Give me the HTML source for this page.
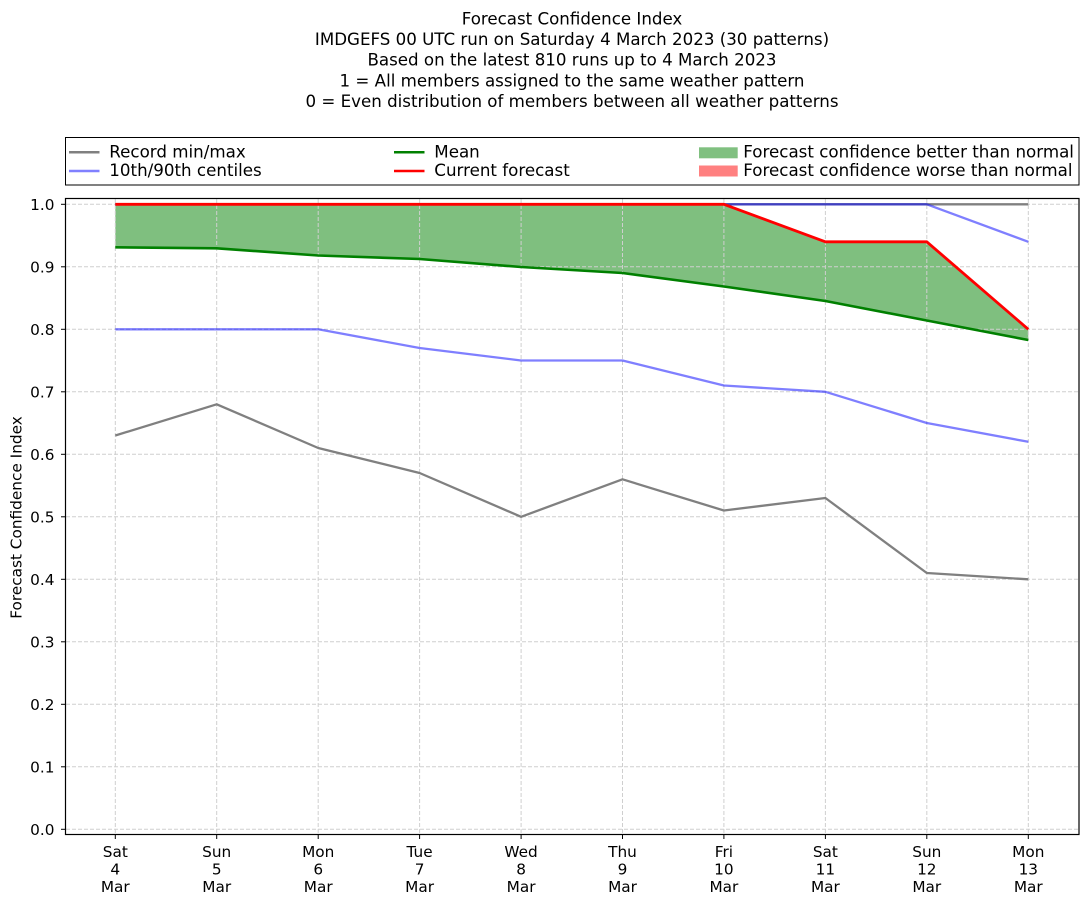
<!DOCTYPE html>
<html>
<head>
<meta charset="utf-8">
<style>
html,body{margin:0;padding:0;background:#fff;}
svg{display:block;}
text{font-family:"DejaVu Sans","Liberation Sans",sans-serif;fill:#000;}
</style>
</head>
<body>
<svg width="1092" height="924" viewBox="0 0 1092 924" xmlns="http://www.w3.org/2000/svg">
<!-- Title -->
<g font-size="16.67" text-anchor="middle">
<text x="572" y="24.3">Forecast Confidence Index</text>
<text x="572" y="45">IMDGEFS 00 UTC run on Saturday 4 March 2023 (30 patterns)</text>
<text x="572" y="65.7">Based on the latest 810 runs up to 4 March 2023</text>
<text x="572" y="86.3">1 = All members assigned to the same weather pattern</text>
<text x="572" y="107">0 = Even distribution of members between all weather patterns</text>
</g>

<!-- Legend -->
<rect x="65.5" y="137.5" width="1013.5" height="47.5" fill="#fff" stroke="#000" stroke-width="1"/>
<g stroke-width="2.5">
<line x1="69" y1="152.3" x2="99.5" y2="152.3" stroke="#808080"/>
<line x1="69" y1="171" x2="99.5" y2="171" stroke="#8080ff"/>
<line x1="394" y1="152.3" x2="424.5" y2="152.3" stroke="#008000"/>
<line x1="394" y1="171" x2="424.5" y2="171" stroke="#ff0000"/>
</g>
<rect x="699" y="147.3" width="38.7" height="11" fill="#80c080"/>
<rect x="699" y="165.5" width="38.7" height="11" fill="#ff8080"/>
<g font-size="16.7">
<text x="109.3" y="157.7">Record min/max</text>
<text x="109.3" y="176.2">10th/90th centiles</text>
<text x="434.3" y="157.7">Mean</text>
<text x="434.3" y="176.2">Current forecast</text>
<text x="743.3" y="157.7">Forecast confidence better than normal</text>
<text x="743.3" y="176.2">Forecast confidence worse than normal</text>
</g>

<!-- Fill between mean and current -->
<polygon fill="#008000" fill-opacity="0.5" points="
115.3,204.3 216.7,204.3 318.2,204.3 419.6,204.3 521.1,204.3 622.5,204.3 723.9,204.3 825.4,241.8 926.8,241.8 1028.3,329.3
1028.3,340 926.8,320.5 825.4,301 723.9,286.5 622.5,273 521.1,267 419.6,259 318.2,255.5 216.7,248.3 115.3,247.3"/>

<!-- Grid -->
<g stroke="#cfcfcf" stroke-width="1" stroke-dasharray="4,2" fill="none">
<line x1="66" y1="204.3" x2="1079" y2="204.3"/>
<line x1="66" y1="266.8" x2="1079" y2="266.8"/>
<line x1="66" y1="329.3" x2="1079" y2="329.3"/>
<line x1="66" y1="391.8" x2="1079" y2="391.8"/>
<line x1="66" y1="454.3" x2="1079" y2="454.3"/>
<line x1="66" y1="516.8" x2="1079" y2="516.8"/>
<line x1="66" y1="579.3" x2="1079" y2="579.3"/>
<line x1="66" y1="641.8" x2="1079" y2="641.8"/>
<line x1="66" y1="704.3" x2="1079" y2="704.3"/>
<line x1="66" y1="766.8" x2="1079" y2="766.8"/>
<line x1="66" y1="829.3" x2="1079" y2="829.3"/>
<line x1="115.3" y1="199" x2="115.3" y2="834"/>
<line x1="216.7" y1="199" x2="216.7" y2="834"/>
<line x1="318.2" y1="199" x2="318.2" y2="834"/>
<line x1="419.6" y1="199" x2="419.6" y2="834"/>
<line x1="521.1" y1="199" x2="521.1" y2="834"/>
<line x1="622.5" y1="199" x2="622.5" y2="834"/>
<line x1="723.9" y1="199" x2="723.9" y2="834"/>
<line x1="825.4" y1="199" x2="825.4" y2="834"/>
<line x1="926.8" y1="199" x2="926.8" y2="834"/>
<line x1="1028.3" y1="199" x2="1028.3" y2="834"/>
</g>

<!-- Series -->
<g fill="none" stroke-width="2.3" stroke-linejoin="round">
<polyline stroke="#808080" points="115.3,435.5 216.7,404.3 318.2,448 419.6,473 521.1,516.8 622.5,479.3 723.9,510.5 825.4,498 926.8,573 1028.3,579.3"/>
<polyline stroke="#808080" points="115.3,204.3 1028.3,204.3"/>
<polyline stroke="#0000ff" stroke-opacity="0.5" points="115.3,329.3 216.7,329.3 318.2,329.3 419.6,348 521.1,360.5 622.5,360.5 723.9,385.5 825.4,391.8 926.8,423 1028.3,441.8"/>
<polyline stroke="#0000ff" stroke-opacity="0.5" points="115.3,204.3 216.7,204.3 318.2,204.3 419.6,204.3 521.1,204.3 622.5,204.3 723.9,204.3 825.4,204.3 926.8,204.3 1028.3,241.8"/>
<polyline stroke="#008000" stroke-width="2.6" points="115.3,247.3 216.7,248.3 318.2,255.5 419.6,259 521.1,267 622.5,273 723.9,286.5 825.4,301 926.8,320.5 1028.3,340"/>
<polyline stroke="#ff0000" stroke-width="2.8" points="115.3,204.3 216.7,204.3 318.2,204.3 419.6,204.3 521.1,204.3 622.5,204.3 723.9,204.3 825.4,241.8 926.8,241.8 1028.3,329.3"/>
</g>

<!-- Frame -->
<rect x="65.5" y="198.5" width="1013.5" height="636" fill="none" stroke="#000" stroke-width="1.2"/>

<!-- Ticks -->
<g stroke="#000" stroke-width="1">
<line x1="61" y1="204.3" x2="65.5" y2="204.3"/>
<line x1="61" y1="266.8" x2="65.5" y2="266.8"/>
<line x1="61" y1="329.3" x2="65.5" y2="329.3"/>
<line x1="61" y1="391.8" x2="65.5" y2="391.8"/>
<line x1="61" y1="454.3" x2="65.5" y2="454.3"/>
<line x1="61" y1="516.8" x2="65.5" y2="516.8"/>
<line x1="61" y1="579.3" x2="65.5" y2="579.3"/>
<line x1="61" y1="641.8" x2="65.5" y2="641.8"/>
<line x1="61" y1="704.3" x2="65.5" y2="704.3"/>
<line x1="61" y1="766.8" x2="65.5" y2="766.8"/>
<line x1="61" y1="829.3" x2="65.5" y2="829.3"/>
<line x1="115.3" y1="834.5" x2="115.3" y2="839"/>
<line x1="216.7" y1="834.5" x2="216.7" y2="839"/>
<line x1="318.2" y1="834.5" x2="318.2" y2="839"/>
<line x1="419.6" y1="834.5" x2="419.6" y2="839"/>
<line x1="521.1" y1="834.5" x2="521.1" y2="839"/>
<line x1="622.5" y1="834.5" x2="622.5" y2="839"/>
<line x1="723.9" y1="834.5" x2="723.9" y2="839"/>
<line x1="825.4" y1="834.5" x2="825.4" y2="839"/>
<line x1="926.8" y1="834.5" x2="926.8" y2="839"/>
<line x1="1028.3" y1="834.5" x2="1028.3" y2="839"/>
</g>

<!-- Y tick labels -->
<g font-size="15.3" text-anchor="end">
<text x="54.5" y="209.8">1.0</text>
<text x="54.5" y="272.3">0.9</text>
<text x="54.5" y="334.8">0.8</text>
<text x="54.5" y="397.3">0.7</text>
<text x="54.5" y="459.8">0.6</text>
<text x="54.5" y="522.3">0.5</text>
<text x="54.5" y="584.8">0.4</text>
<text x="54.5" y="647.3">0.3</text>
<text x="54.5" y="709.8">0.2</text>
<text x="54.5" y="772.3">0.1</text>
<text x="54.5" y="834.8">0.0</text>
</g>

<!-- X tick labels -->
<g font-size="15.3" text-anchor="middle">
<text x="115.3" y="857">Sat</text><text x="115.3" y="874.5">4</text><text x="115.3" y="892">Mar</text>
<text x="216.7" y="857">Sun</text><text x="216.7" y="874.5">5</text><text x="216.7" y="892">Mar</text>
<text x="318.2" y="857">Mon</text><text x="318.2" y="874.5">6</text><text x="318.2" y="892">Mar</text>
<text x="419.6" y="857">Tue</text><text x="419.6" y="874.5">7</text><text x="419.6" y="892">Mar</text>
<text x="521.1" y="857">Wed</text><text x="521.1" y="874.5">8</text><text x="521.1" y="892">Mar</text>
<text x="622.5" y="857">Thu</text><text x="622.5" y="874.5">9</text><text x="622.5" y="892">Mar</text>
<text x="723.9" y="857">Fri</text><text x="723.9" y="874.5">10</text><text x="723.9" y="892">Mar</text>
<text x="825.4" y="857">Sat</text><text x="825.4" y="874.5">11</text><text x="825.4" y="892">Mar</text>
<text x="926.8" y="857">Sun</text><text x="926.8" y="874.5">12</text><text x="926.8" y="892">Mar</text>
<text x="1028.3" y="857">Mon</text><text x="1028.3" y="874.5">13</text><text x="1028.3" y="892">Mar</text>
</g>

<!-- Y axis label -->
<text font-size="15.3" text-anchor="middle" transform="translate(21.5,517.5) rotate(-90)">Forecast Confidence Index</text>
</svg>
</body>
</html>
